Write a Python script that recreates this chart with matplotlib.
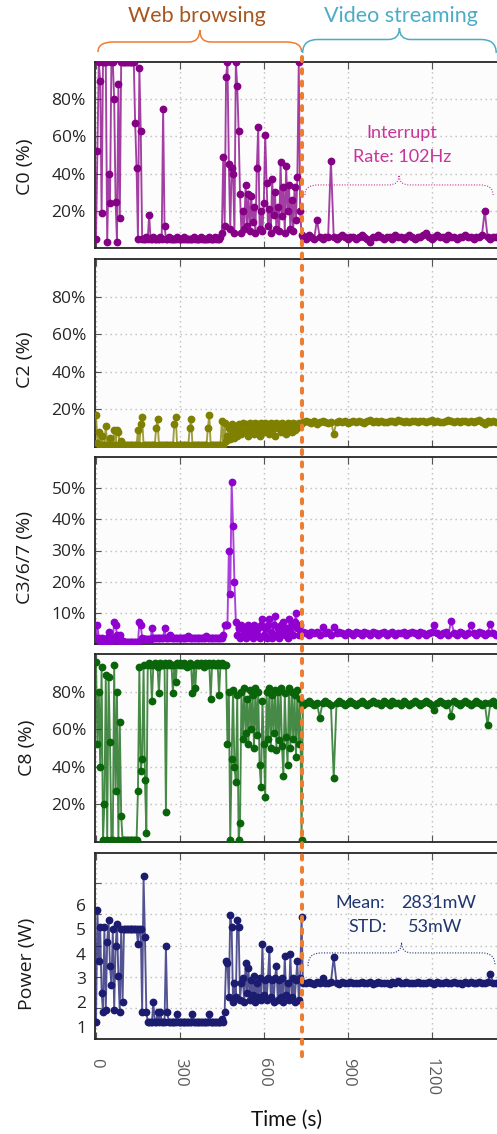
import numpy as np
import matplotlib
matplotlib.use("Agg")
import matplotlib.pyplot as plt
from matplotlib.path import Path
from matplotlib.patches import PathPatch
from matplotlib.lines import Line2D

# ---------------- data ----------------
t_web = np.arange(0, 740, 5)      # web-browsing phase samples (s)
t_vid = np.arange(740, 1440, 10)  # video-streaming phase samples (s)
t_switch = 738                    # moment of the phase change (s)

c0_web = [5, 52, 100, 90, 19, 100, 100, 100, 3, 40,
          24, 100, 100, 80, 25, 3, 88, 16, 100, 100,
          100, 100, 100, 100, 100, 100, 100, 100, 67, 43,
          5, 97, 63, 5, 5, 5, 6, 5, 18, 5,
          5, 6, 5, 5, 5, 5, 6, 5, 75, 12,
          5, 5, 6, 5, 5, 5, 5, 5, 6, 5,
          5, 5, 5, 6, 5, 5, 5, 5, 5, 5,
          6, 5, 5, 5, 5, 6, 5, 5, 5, 5,
          5, 6, 5, 5, 5, 6, 5, 5, 5, 6,
          8, 49, 12, 92, 100, 45, 10, 43, 40, 8,
          100, 87, 63, 29, 8, 20, 10, 34, 12, 29,
          9, 28, 14, 22, 8, 43, 65, 10, 20, 9,
          24, 61, 35, 12, 21, 8, 37, 18, 30, 10,
          22, 9, 46, 17, 33, 8, 44, 20, 34, 10,
          26, 9, 33, 15, 38, 100, 20, 7]
c0_vid = [6, 5, 7, 6, 5, 15, 6, 5, 6, 6,
          47, 6, 5, 6, 7, 6, 5, 6, 6, 5,
          6, 7, 6, 5, 3, 6, 6, 7, 6, 5,
          6, 6, 5, 7, 6, 6, 5, 6, 7, 6,
          5, 6, 6, 7, 8, 6, 5, 6, 7, 6,
          6, 5, 7, 6, 6, 5, 6, 6, 7, 6,
          6, 5, 6, 6, 7, 20, 6, 5, 6, 6]

c2_web = [17, 2, 8, 1, 6, 1, 1, 11, 1, 1,
          5, 1, 1, 9, 1, 9, 8, 1, 3, 1,
          1, 1, 1, 1, 1, 1, 1, 1, 1, 1,
          9, 1, 12, 16, 1, 1, 1, 1, 1, 1,
          1, 1, 1, 10, 15, 1, 1, 1, 1, 1,
          1, 1, 1, 1, 1, 1, 12, 16, 1, 1,
          1, 1, 1, 1, 1, 1, 1, 10, 15, 1,
          1, 1, 1, 1, 1, 1, 1, 1, 1, 1,
          10, 17, 1, 1, 1, 1, 1, 1, 1, 1,
          14, 1, 13, 3, 6, 10, 4, 12, 8, 5,
          11, 6, 12, 9, 7, 13, 8, 12, 10, 6,
          13, 8, 11, 7, 13, 9, 12, 6, 13, 10,
          8, 13, 10, 12, 7, 13, 9, 11, 6, 13,
          10, 12, 8, 13, 9, 11, 7, 13, 10, 12,
          8, 13, 9, 12, 10, 13, 11, 13]
c2_vid = [13.5, 14, 13.5, 13, 14, 12, 13.5, 14, 13.5, 13,
          13.5, 7, 13.5, 14, 13.5, 14, 13, 13.5, 14, 13.5,
          14, 13.5, 13, 14, 14.5, 13.5, 14, 13.5, 14, 13.5,
          13.5, 14, 14, 13.5, 14.5, 14, 13.5, 14, 13.5, 14,
          14, 13.5, 14, 14, 13.5, 14, 14.5, 13.5, 14, 13.5,
          13.5, 14, 14.5, 14, 13.5, 14, 13.5, 14, 14, 13.5,
          14, 13.5, 14, 14.5, 13.5, 12, 14, 13.5, 14, 13.5]

c367_web = [2, 6, 2, 1, 2, 1, 1, 1, 2, 4,
            1, 1, 2, 7, 6, 3, 1, 3, 1, 1,
            0.5, 0.5, 0.5, 0.5, 0.5, 0.5, 0.5, 0.5, 0.5, 0.5,
            0.5, 7, 6, 2, 1.5, 1.5, 1.5, 1.5, 1.5, 1.5,
            5, 2, 2, 2, 2, 2, 2, 2, 2, 5,
            2, 2, 2, 3, 2, 2, 2, 2, 2, 2,
            2, 2, 2, 2, 2, 2, 2.5, 2, 2, 2,
            2, 2, 2, 2, 2, 2, 2, 2, 2, 2.5,
            2, 2, 2, 2, 2, 2, 2, 2, 2, 2,
            2, 3, 6, 6, 6, 30, 16, 52, 38, 20,
            7, 3, 5, 2, 6, 3, 5, 2, 4, 6,
            3, 5, 2, 6, 4, 3, 5, 2, 6, 8,
            3, 5, 2, 6, 8, 4, 2, 6, 9, 3,
            5, 2, 6, 4, 7, 3, 5, 2, 8, 4,
            6, 3, 7, 10, 5, 3, 6, 4]
c367_vid = [4, 3.5, 3, 4, 3.5, 4, 3, 5.5, 3.5, 4,
            3, 5.5, 3.5, 4, 3.5, 3, 4, 3.5, 3, 4,
            3.5, 3, 4, 3.5, 3, 4, 3.5, 3, 3.5, 4,
            3, 3.5, 4, 3, 3.5, 3.5, 4, 3, 3.5, 4,
            3.5, 3, 4, 3.5, 3, 3.5, 4, 6, 3.5, 3,
            3.5, 4, 3, 7.5, 3.5, 3, 4, 3.5, 3, 3.5,
            6, 3.5, 3, 4, 3.5, 3, 3.5, 6.5, 3.5, 3]

c8_web = [96, 52, 80, 40, 93, 1, 20, 89, 1, 88,
          53, 1, 1, 94, 27, 80, 1, 64, 14, 1,
          1, 1, 1, 1, 1, 1, 1, 1, 1, 1,
          27, 93, 38, 44, 94, 33, 5, 94, 95, 94,
          75, 94, 95, 94, 93, 79, 95, 94, 94, 95,
          16, 94, 95, 94, 94, 79, 94, 85, 95, 94,
          95, 94, 94, 95, 94, 93, 94, 95, 94, 79,
          94, 82, 95, 94, 94, 95, 94, 93, 95, 94,
          94, 95, 76, 94, 95, 94, 94, 95, 78, 94,
          95, 94, 94, 94, 52, 80, 1, 44, 81, 40,
          32, 78, 1, 10, 80, 55, 82, 58, 76, 52,
          81, 60, 78, 50, 82, 57, 80, 41, 29, 75,
          52, 24, 80, 55, 82, 50, 78, 58, 81, 49,
          80, 54, 82, 51, 35, 79, 56, 41, 82, 50,
          80, 55, 78, 45, 81, 52, 76, 1]
c8_vid = [73, 74, 75, 74, 73, 74, 66, 74, 75, 74,
          73, 34, 74, 75, 74, 73, 74, 75, 74, 73,
          74, 75, 74, 73, 74, 75, 74, 74, 73, 75,
          74, 73, 75, 74, 74, 73, 75, 74, 73, 74,
          75, 74, 73, 74, 75, 74, 73, 70, 74, 75,
          74, 73, 74, 67, 75, 74, 73, 74, 75, 74,
          73, 74, 75, 74, 73, 74, 62, 74, 75, 73]

power_web = [1.2, 5.8, 3.7, 5.1, 2.4, 1.6, 5.1, 1.7, 4.5, 5.4,
             3.5, 2.7, 5.0, 1.7, 4.3, 5.2, 3.1, 1.6, 5.0, 2.0,
             5.0, 5.0, 5.0, 5.0, 5.0, 5.0, 5.0, 5.0, 5.0, 5.0,
             4.4, 5.0, 5.0, 1.6, 7.2, 4.7, 1.6, 1.2, 1.2, 1.2,
             1.2, 2.0, 1.2, 1.2, 1.6, 1.2, 1.6, 1.2, 1.2, 1.2,
             4.3, 1.6, 1.2, 1.2, 1.2, 1.2, 1.2, 1.2, 1.5, 1.2,
             1.2, 1.2, 1.2, 1.2, 1.2, 1.2, 1.2, 1.2, 1.2, 1.5,
             1.2, 1.2, 1.2, 1.2, 1.2, 1.2, 1.2, 1.2, 1.2, 1.2,
             1.2, 1.5, 1.2, 1.2, 1.2, 1.2, 1.2, 1.2, 1.2, 1.2,
             1.3, 1.2, 1.6, 3.7, 3.6, 2.2, 5.6, 5.1, 2.0, 2.8,
             2.2, 5.4, 5.1, 2.1, 2.8, 3.0, 2.0, 3.6, 2.4, 3.4,
             2.1, 2.9, 2.3, 3.1, 2.0, 2.8, 2.2, 3.0, 2.1, 4.4,
             2.3, 2.9, 2.1, 3.0, 4.2, 2.2, 2.9, 2.0, 3.0, 3.5,
             2.1, 2.9, 2.2, 3.0, 2.0, 3.9, 2.3, 2.8, 2.1, 4.0,
             2.2, 3.0, 2.0, 2.9, 3.7, 2.1, 3.0, 5.5]
power_vid = [2.80, 2.78, 2.85, 2.80, 2.76, 2.82, 2.80, 3.00, 2.80, 2.78,
             2.82, 3.86, 2.80, 2.77, 2.83, 2.80, 2.78, 2.84, 2.80, 2.79,
             2.81, 2.85, 2.78, 2.80, 2.82, 2.76, 2.80, 2.84, 2.79, 2.81,
             2.80, 2.77, 2.83, 2.80, 2.86, 2.79, 2.80, 2.82, 2.78, 2.81,
             2.80, 2.84, 2.78, 2.81, 2.79, 2.85, 2.80, 2.77, 2.82, 2.80,
             2.79, 2.83, 2.80, 2.78, 2.84, 2.80, 2.81, 2.77, 2.82, 2.80,
             2.85, 2.79, 2.80, 2.82, 2.78, 2.80, 2.83, 3.17, 2.80, 2.79]

pct_ticks = [20, 40, 60, 80]
c367_ticks = [10, 20, 30, 40, 50]
power_ticks = [1, 2, 3, 4, 5, 6]
power_grid = [1.78, 3.05, 4.33, 5.63, 6.90]
x_ticks = [0, 300, 600, 900, 1200]

for arr in (c0_web, c2_web, c367_web, c8_web, power_web):
    assert len(arr) == len(t_web), len(arr)
for arr in (c0_vid, c2_vid, c367_vid, c8_vid, power_vid):
    assert len(arr) == len(t_vid), len(arr)

# ---------------- figure ----------------
W, H = 497, 1134
fig = plt.figure(figsize=(W / 100, H / 100), dpi=100)
fig.patch.set_facecolor("white")

TICK_FONT = "Open Sans"
ANN_FONT = "Lato"

XL, XR = 95, 499
XLIM = (-3.6, 1441)

panels = [
    dict(top=62, bottom=248, web=c0_web, vid=c0_vid, color="#860086",
         ylim=(0, 100), ticks=pct_ticks, label="C0 (%)", lab_xy=(25, 167)),
    dict(top=259, bottom=447, web=c2_web, vid=c2_vid, color="#7F7F00",
         ylim=(0, 100), ticks=pct_ticks, label="C2 (%)", lab_xy=(25, 360)),
    dict(top=457, bottom=644, web=c367_web, vid=c367_vid, color="#9000D0",
         ylim=(0, 60), ticks=c367_ticks, label="C3/6/7 (%)", lab_xy=(25, 557)),
    dict(top=654, bottom=842, web=c8_web, vid=c8_vid, color="#0A640A",
         ylim=(0, 100), ticks=pct_ticks, label="C8 (%)", lab_xy=(27, 748)),
    dict(top=853, bottom=1039, web=power_web, vid=power_vid, color="#1B1B70",
         ylim=(0.49, 8.14), ticks=power_grid, label="Power (W)", lab_xy=(27, 964)),
]

grid_kw = dict(color="#BDBDBD", linestyle=(0, (1, 2.6)), linewidth=1.0)
axes = []
for k, p in enumerate(panels):
    ax = fig.add_axes([XL / W, 1 - p["bottom"] / H, (XR - XL) / W,
                       (p["bottom"] - p["top"]) / H])
    ax.set_facecolor("#FCFCFC")
    t = np.concatenate([t_web, t_vid])
    v = np.concatenate([p["web"], p["vid"]])
    ax.plot(t, v, color=p["color"], lw=1.35, alpha=0.75, zorder=3)
    ax.plot(t, v, ls="none", marker="o", ms=4.6, color=p["color"],
            mec=p["color"], zorder=4)
    ax.set_xlim(*XLIM)
    ax.set_ylim(*p["ylim"])
    ax.set_xticks(x_ticks)
    ax.set_yticks(p["ticks"])
    if k < 4:
        ax.set_yticklabels([f"{v}%" for v in p["ticks"]])
    else:
        ax.set_yticklabels([])
        ax.set_yticks(power_ticks, minor=True)
        ax.set_yticklabels([str(v) for v in power_ticks], minor=True)
        ax.tick_params(axis="y", which="minor", length=0, pad=6.5,
                       labelsize=12.5, labelcolor="#262626")
        for lab in ax.get_yticklabels(minor=True):
            lab.set_fontfamily(TICK_FONT)
    ax.tick_params(axis="y", which="major", direction="in", length=4,
                   width=0.8, color="#555555", pad=6.5, labelsize=12.5,
                   labelcolor="#262626", right=False)
    ax.tick_params(axis="x", direction="in", length=5, width=0.8,
                   color="#555555", top=True, bottom=True,
                   labelbottom=(k == 4), labelsize=12, labelcolor="#5A5A5A",
                   pad=13.5, labelrotation=-90)
    for lab in ax.get_yticklabels() + ax.get_xticklabels():
        lab.set_fontfamily(TICK_FONT)
    for lab in ax.get_xticklabels():
        lab.set_va("top")
        lab.set_ha("center")
    ax.grid(True, which="major", **grid_kw)
    ax.set_axisbelow(True)
    for s in ax.spines.values():
        s.set_color("#262626")
        s.set_linewidth(1.3)
    fig.text(p["lab_xy"][0] / W, 1 - p["lab_xy"][1] / H, p["label"],
             rotation=90, ha="center", va="center", fontsize=14,
             family=TICK_FONT, color="#1A1A1A")
    axes.append(ax)

fig.text(287 / W, 1 - 1120 / H, "Time (s)", ha="center", va="center",
         fontsize=15, family=ANN_FONT, color="#111111")


def to_fig_x(t):
    return fig.transFigure.inverted().transform(
        axes[0].transData.transform((t, 0)))[0]


# ---- orange dashed phase separator ----
xf = to_fig_x(t_switch)
fig.add_artist(Line2D([xf, xf], [1 - 57 / H, 1 - 1059 / H],
                      transform=fig.transFigure, color="#ED7D31", lw=2.9,
                      linestyle=(0, (1.0, 2.05)), dash_capstyle="round",
                      zorder=20))


def brace(x0, x1, ye, ym, yt, re, rt, transform, color, lw, ls, target=None):
    xt = (x0 + x1) / 2
    verts = [(x0, ye), (x0, ym), (x0 + re, ym),
             (xt - rt, ym), (xt, ym), (xt, yt),
             (xt, ym), (xt + rt, ym),
             (x1 - re, ym), (x1, ym), (x1, ye)]
    codes = [Path.MOVETO, Path.CURVE3, Path.CURVE3, Path.LINETO,
             Path.CURVE3, Path.CURVE3, Path.CURVE3, Path.CURVE3,
             Path.LINETO, Path.CURVE3, Path.CURVE3]
    patch = PathPatch(Path(verts, codes), facecolor="none", edgecolor=color,
                      lw=lw, linestyle=ls, transform=transform, zorder=15,
                      clip_on=False)
    if target is None:
        fig.add_artist(patch)
    else:
        target.add_patch(patch)


def fy(py):
    return 1 - py / H


# ---- phase braces and titles above the plot ----
brace(to_fig_x(7), to_fig_x(735), fy(52), fy(42), fy(30), 15 / W, 11 / W,
      fig.transFigure, "#ED7D31", 1.1, "-")
brace(to_fig_x(739), to_fig_x(1431), fy(53), fy(39.5), fy(28), 15 / W, 11 / W,
      fig.transFigure, "#4BACC6", 1.1, "-")
fig.text(197 / W, fy(16), "Web browsing", ha="center", va="center",
         fontsize=15.5, family=ANN_FONT, color="#A8561E")
fig.text(401 / W, fy(16), "Video streaming", ha="center", va="center",
         fontsize=15.5, family=ANN_FONT, color="#4BACC6")

# ---- annotation in C0 panel ----
ax0 = axes[0]
brace(747, 1420, 28.5, 33.9, 39.2, 46, 36, ax0.transData, "#C9349A", 0.8,
      (0, (1, 1.4)), target=ax0)
ax0.text(1094, 61.8, "Interrupt", ha="center", va="center", fontsize=13,
         family=ANN_FONT, color="#C9349A", zorder=6)
ax0.text(1094, 48.9, "Rate: 102Hz", ha="center", va="center", fontsize=13,
         family=ANN_FONT, color="#C9349A", zorder=6)

# ---- annotation in power panel ----
ax4 = axes[4]
brace(758, 1427, 3.5, 4.03, 4.46, 46, 36, ax4.transData, "#1F3670", 0.8,
      (0, (1, 1.4)), target=ax4)
ax4.text(855, 6.08, "Mean:", ha="left", va="center", fontsize=13,
         family=ANN_FONT, color="#1F3670", zorder=6)
ax4.text(1093, 6.08, "2831mW", ha="left", va="center", fontsize=13,
         family=ANN_FONT, color="#1F3670", zorder=6)
ax4.text(901, 5.09, "STD:", ha="left", va="center", fontsize=13,
         family=ANN_FONT, color="#1F3670", zorder=6)
ax4.text(1114, 5.09, "53mW", ha="left", va="center", fontsize=13,
         family=ANN_FONT, color="#1F3670", zorder=6)

fig.savefig("out.png", dpi=100, facecolor="white")
